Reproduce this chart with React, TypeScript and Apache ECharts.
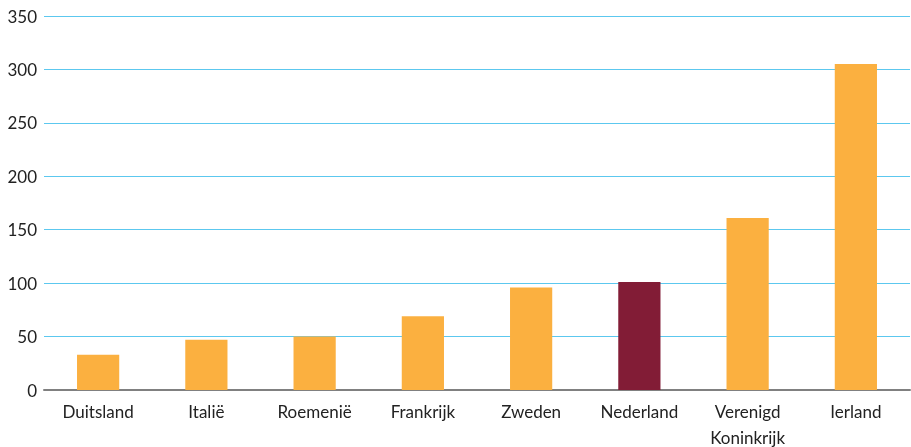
import React, { useEffect, useRef } from "react";
import * as echarts from "echarts";

const categories = ["Duitsland", "Italië", "Roemenië", "Frankrijk", "Zweden", "Nederland", "Verenigd\nKoninkrijk", "Ierland"];
const values = [33, 47, 50, 69, 96, 101, 161, 305];
const highlight = "Nederland";
const yTicks = { min: 0, max: 350, interval: 50 };

export default function App() {
  const ref = useRef<HTMLDivElement>(null);
  useEffect(() => {
    const chart = echarts.init(ref.current!, null, { renderer: "svg" });
    chart.setOption({
      animation: false,
      grid: { left: 44, right: 1, top: 16, bottom: 57, containLabel: false, outerBoundsMode: "none" },
      xAxis: {
        type: "category",
        data: categories,
        axisTick: { show: false },
        axisLine: { lineStyle: { color: "#808080", width: 2 } },
        axisLabel: {
          color: "#222",
          fontFamily: "Lato",
          fontSize: 17,
          lineHeight: 26,
          margin: 8,
          interval: 0,
        },
      },
      yAxis: {
        type: "value",
        min: yTicks.min,
        max: yTicks.max,
        interval: yTicks.interval,
        axisLine: { show: false },
        axisTick: { show: false },
        splitLine: { lineStyle: { color: "#5CC8EF", width: 1 } },
        axisLabel: { color: "#222", fontFamily: "Lato", fontSize: 17, margin: 7 },
      },
      series: [
        {
          type: "bar",
          barWidth: "39%",
          data: values.map((v, i) => ({
            value: v,
            itemStyle: { color: categories[i] === highlight ? "#821C36" : "#FBB040" },
          })),
        },
      ],
    });
    return () => chart.dispose();
  }, []);
  return <div ref={ref} style={{ position: "fixed", left: 0, top: 0, width: 911, height: 447 }} />;
}
